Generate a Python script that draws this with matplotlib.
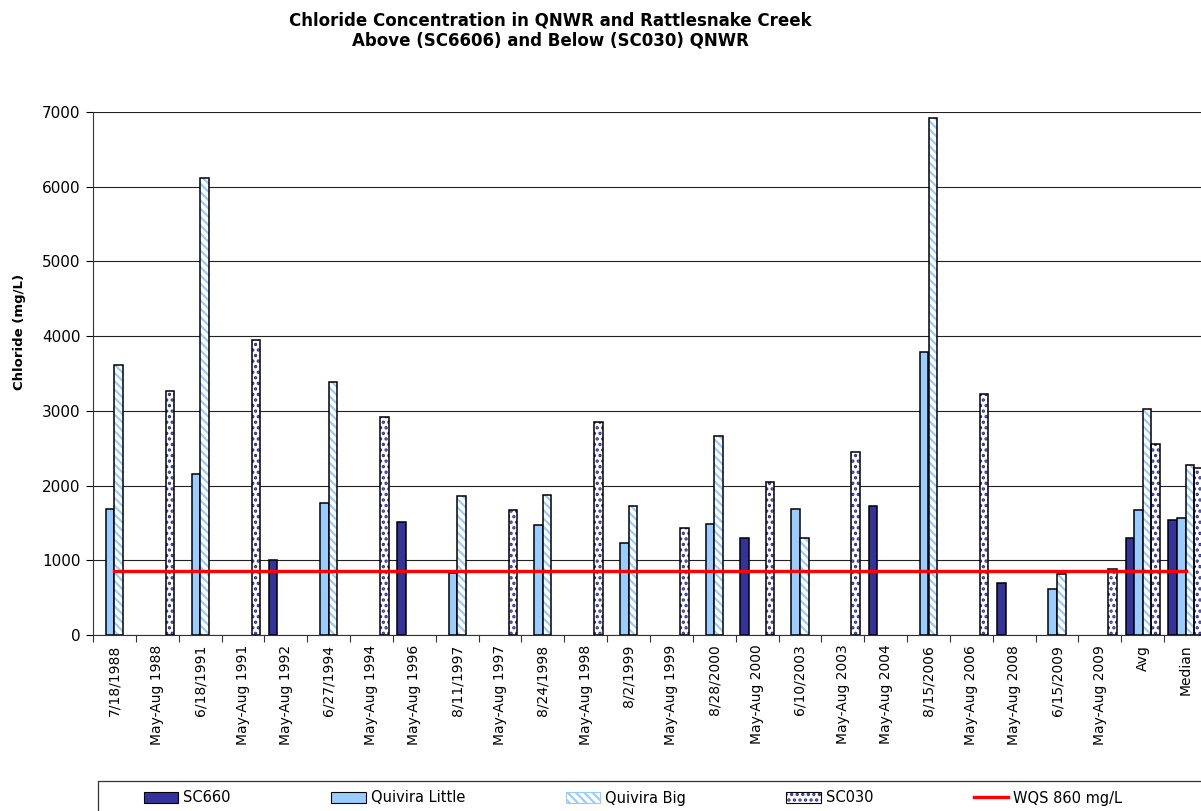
#!/usr/bin/env python3

import matplotlib
matplotlib.use('Agg')
import matplotlib.pyplot as plt
from matplotlib.patches import Patch, Rectangle
from matplotlib.lines import Line2D
import numpy as np

# Sampling events along the x axis
labels = ['7/18/1988', 'May-Aug 1988', '6/18/1991', 'May-Aug 1991', 'May-Aug 1992',
          '6/27/1994', 'May-Aug 1994', 'May-Aug 1996', '8/11/1997', 'May-Aug 1997',
          '8/24/1998', 'May-Aug 1998', '8/2/1999', 'May-Aug 1999', '8/28/2000',
          'May-Aug 2000', '6/10/2003', 'May-Aug 2003', 'May-Aug 2004', '8/15/2006',
          'May-Aug 2006', 'May-Aug 2008', '6/15/2009', 'May-Aug 2009', 'Avg', 'Median']

# Chloride (mg/L), None where no sample
sc660 = [None, None, None, None, 1000, None, None, 1510, None, None, None, None, None,
         None, None, 1300, None, None, 1720, None, None, 700, None, None, 1300, 1540]
quivira_little = [1680, None, 2160, None, None, 1770, None, None, 830, None, 1470, None,
                  1230, None, 1480, None, 1680, None, None, 3790, None, None, 610, None,
                  1670, 1570]
quivira_big = [3610, None, 6120, None, None, 3390, None, None, 1860, None, 1870, None,
               1730, None, 2660, None, 1300, None, None, 6920, None, None, 810, None,
               3030, 2270]
sc030 = [None, 3270, None, 3950, None, None, 2920, None, None, 1670, None, 2850, None,
         1430, None, 2050, None, 2450, None, None, 3230, None, None, 890, 2550, 2240]

wqs = 860

W, H = 1201, 811
plt.rcParams['font.family'] = 'DejaVu Sans'
plt.rcParams['hatch.linewidth'] = 1.6

STRIPES = '\\\\\\\\'
DOTS = '...'


def to_arr(vals):
    return np.array([np.nan if v is None else v for v in vals], dtype=float)


def draw_series(ax, x, vals, face, hatch=None, hatch_color=None):
    """Draw one series of bars, skipping missing values."""
    y = to_arr(vals)
    m = ~np.isnan(y)
    bw = 0.2
    if hatch:
        with plt.rc_context({'hatch.color': hatch_color}):
            ax.bar(x[m], y[m], bw, color=face, hatch=hatch, zorder=3)
        ax.bar(x[m], y[m], bw, fill=False, edgecolor='black', linewidth=1.1, zorder=4)
    else:
        ax.bar(x[m], y[m], bw, color=face, edgecolor='black', linewidth=1.1, zorder=3)


def main():
    fig = plt.figure(figsize=(W / 100, H / 100), dpi=100)
    left, right, top, bottom = 93, 1207, 112, 635
    ax = fig.add_axes([left / W, 1 - bottom / H, (right - left) / W, (bottom - top) / H])

    x = np.arange(len(labels))
    draw_series(ax, x - 0.3, sc660, '#333399')
    draw_series(ax, x - 0.1, quivira_little, '#99CCFF')
    draw_series(ax, x + 0.1, quivira_big, 'white', hatch=STRIPES, hatch_color='#99CCFF')
    draw_series(ax, x + 0.3, sc030, 'white', hatch=DOTS, hatch_color='#333399')

    # water quality standard line
    ax.plot([x[0], x[-1]], [wqs, wqs], color='#FF0000', linewidth=2.4, zorder=5)

    ax.set_xlim(-0.5, len(labels) - 0.5)
    ax.set_ylim(0, 7000)
    ax.set_yticks(np.arange(0, 7001, 1000))
    ax.yaxis.grid(True, color='#222222', linewidth=0.8, zorder=0)
    ax.set_axisbelow(True)

    ax.set_xticks(x)
    ax.set_xticklabels(labels, rotation=90, fontsize=10)
    ax.set_xticks(np.arange(-0.5, len(labels), 1.0), minor=True)
    ax.tick_params(axis='x', which='major', length=0, pad=7)
    ax.tick_params(axis='x', which='minor', length=5, width=0.8, color='#333333')
    ax.tick_params(axis='y', length=5, width=0.8, pad=4, labelsize=11)

    for s in ['top', 'right']:
        ax.spines[s].set_visible(False)
    ax.spines['left'].set_color('#333333')
    ax.spines['bottom'].set_color('#333333')

    fig.text(20 / W, 1 - 332 / H, 'Chloride (mg/L)', rotation=90, fontsize=9.5,
             fontweight='bold', ha='center', va='center')
    fig.text(550 / W, 1 - 20 / H, 'Chloride Concentration in QNWR and Rattlesnake Creek',
             fontsize=12, fontweight='bold', ha='center', va='center')
    fig.text(550 / W, 1 - 41 / H, 'Above (SC6606) and Below (SC030) QNWR',
             fontsize=12, fontweight='bold', ha='center', va='center')

    # legend handles
    h1 = Patch(facecolor='#333399', edgecolor='black', linewidth=0.8)
    h2 = Patch(facecolor='#99CCFF', edgecolor='black', linewidth=0.8)
    with plt.rc_context({'hatch.color': '#99CCFF'}):
        h3a = Patch(facecolor='white', hatch=STRIPES)
    with plt.rc_context({'hatch.color': '#333399'}):
        h4a = Patch(facecolor='white', hatch=DOTS)
    h3b = Patch(fill=False, edgecolor='#99CCFF', linewidth=0.8)
    h4b = Patch(fill=False, edgecolor='black', linewidth=0.8)
    h5 = Line2D([], [], color='#FF0000', linewidth=2.4)
    fig.legend([h1, h2, (h3a, h3b), (h4a, h4b), h5],
               ['SC660', 'Quivira Little', 'Quivira Big', 'SC030', 'WQS 860 mg/L'],
               loc='center left', bbox_to_anchor=(144 / W, 1 - 798 / H, (1122 - 144) / W, 0),
               mode='expand', ncol=5, frameon=False, borderpad=0, borderaxespad=0,
               fontsize=10.5, handlelength=2.35, handleheight=0.75, handletextpad=0.35)

    # legend frame, cut off at the bottom and right like the original
    fig.add_artist(Rectangle((98 / W, -0.1), 1.0, 0.1 + 1 - 781 / H, fill=False,
                             edgecolor='#333333', linewidth=0.9,
                             transform=fig.transFigure, clip_on=False))

    fig.savefig('out.png', dpi=100)


if __name__ == "__main__":
    main()
